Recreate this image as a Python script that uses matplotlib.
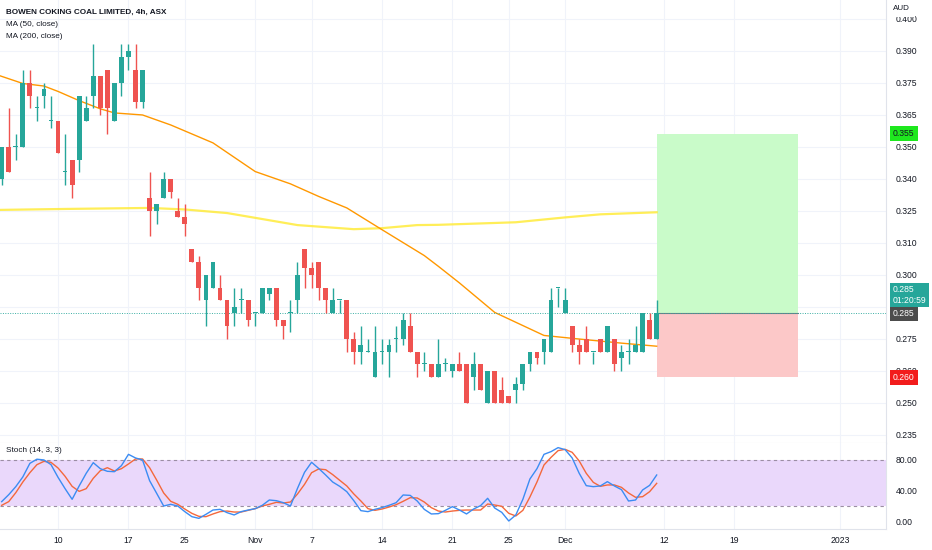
import matplotlib
matplotlib.use("Agg")
import matplotlib.pyplot as plt
import matplotlib.transforms as mtransforms
import numpy as np

plt.rcParams['font.family'] = ['Liberation Sans', 'DejaVu Sans']

# ---------------- data ----------------
opens = [.3375, .350, .350, .350, .375, .365, .370, .360, .360, .340,
         .345, .345, .360, .370, .3775, .380, .360, .375, .385, .380,
         .3675, .330, .325, .330, .3375, .325, .3225, .310, .305, .290,
         .295, .295, .290, .285, .290, .290, .285, .285, .2925, .295,
         .2825, .285, .290, .310, .3025, .305, .295, .285, .290, .290,
         .275, .270, .270, .260, .270, .270, .275, .275, .280, .270,
         .265, .265, .260, .265, .2625, .265, .265, .260, .265, .250,
         .2625, .255, .2525, .255, .2575, .265, .270, .270, .270, .295,
         .285, .280, .2725, .275, .270, .275, .270, .275, .2675, .270,
         .270, .270, .2825, .275]
highs = [.350, .365, .355, .380, .380, .370, .375, .370, .360, .355,
         .345, .370, .370, .390, .3775, .380, .375, .390, .390, .390,
         .380, .340, .3275, .340, .3375, .330, .3275, .310, .3075, .300,
         .305, .300, .290, .295, .295, .290, .285, .295, .295, .295,
         .2825, .290, .305, .310, .305, .305, .295, .295, .290, .290,
         .2775, .280, .275, .280, .275, .275, .280, .285, .285, .270,
         .270, .265, .275, .2675, .265, .270, .265, .270, .265, .2625,
         .2625, .260, .2525, .260, .265, .270, .270, .275, .295, .295,
         .295, .280, .275, .280, .270, .275, .280, .275, .2725, .275,
         .280, .285, .285, .290]
lows = [.335, .340, .345, .350, .365, .360, .365, .3575, .3475, .335,
        .330, .340, .360, .365, .3625, .355, .360, .370, .380, .365,
        .365, .315, .320, .330, .330, .3225, .315, .305, .290, .280,
        .295, .290, .275, .280, .285, .280, .280, .285, .290, .280,
        .275, .2775, .285, .295, .295, .290, .285, .285, .285, .270,
        .265, .265, .270, .260, .265, .260, .270, .2725, .270, .260,
        .2625, .260, .260, .2625, .260, .2625, .250, .255, .255, .250,
        .250, .250, .250, .250, .255, .2625, .265, .265, .270, .2875,
        .285, .270, .265, .270, .265, .270, .270, .2625, .2625, .265,
        .270, .270, .275, .275]
closes = [.350, .340, .350, .375, .370, .365, .3725, .360, .3475, .340,
          .335, .370, .365, .3775, .365, .365, .375, .385, .3875, .3675,
          .380, .325, .3275, .3375, .3325, .3225, .320, .305, .295, .300,
          .305, .290, .280, .2875, .290, .2825, .285, .295, .295, .2825,
          .280, .285, .300, .3025, .300, .295, .290, .290, .290, .275,
          .270, .2725, .270, .270, .270, .2725, .275, .2825, .270, .265,
          .265, .260, .265, .265, .265, .2625, .250, .265, .255, .2625,
          .250, .250, .250, .2575, .265, .270, .2675, .275, .290, .295,
          .290, .2725, .270, .270, .270, .270, .280, .265, .270, .270,
          .2725, .285, .275, .285]

ma50_idx = [-1, 3, 6, 8, 11, 14, 16, 20, 24, 30, 36, 41, 45, 49, 54, 60, 62, 65, 70, 77, 82, 88, 93]
ma50_val = [.3784, .3747, .3737, .3716, .3680, .3648, .3632, .3624, .3585, .3515, .3403, .3355,
            .3306, .3261, .3176, .3075, .3033, .2968, .2853, .2763, .2749, .2733, .2721]
ma200_idx = [-1, 9, 21, 26, 32, 35, 42, 50, 54, 59, 62, 73, 80, 85, 93]
ma200_val = [.3253, .3257, .3261, .3255, .3241, .3227, .3194, .3178, .3182, .3194, .3195,
             .3205, .3224, .3236, .3244]

stoch_k = [26, 35, 45.4, 58, 75.6, 81, 80, 74, 57.5, 42.8, 29, 46.3, 62.7, 76.5, 68.7, 65.3, 64.8,
           72.6, 87.3, 82.6, 80, 53.2, 36.8, 20.3, 22.5, 20.3, 13, 6.5, 4.3, 9.5, 15.1, 16, 11.7,
           8.7, 13, 15.1, 16.9, 21.2, 28.1, 27.2, 24.6, 20.3, 43.2, 64, 77, 69.1, 60.5, 51.4, 45.8,
           38.9, 27.2, 14.3, 13, 16, 18.2, 21.2, 24.6, 34.6, 34.1, 26.8, 16, 10, 10.4, 14.7, 19.5,
           15.1, 10, 16.4, 20.8, 30.3, 17.7, 12.1, 0.9, 8.7, 29, 55.3, 68.7, 87.3, 90.8, 96, 93.4,
           82.6, 62.7, 46.7, 45.4, 46.3, 51.9, 46.3, 41.5, 26.8, 28.1, 41.1, 47.1, 60.5]
stoch_d = [21.2, 26, 37.6, 51.4, 63.5, 73.9, 78.2, 76.9, 69.6, 58.8, 45.8, 39.3, 42.8, 56.2, 66.1,
           70, 65.7, 68.7, 74.8, 81.3, 81.3, 70, 54, 37.2, 26.4, 22.5, 16.4, 10.8, 6.9, 6.5, 10, 13,
           13.8, 12.5, 12.5, 14.7, 16.9, 20.3, 22.5, 25.1, 24.2, 25.5, 35.9, 48.4, 63.5, 68.3, 67.4,
           61, 53.6, 46.3, 35.9, 26.8, 16.9, 14.7, 16.4, 19, 22, 26.4, 31.1, 30.7, 25.5, 18.2, 13.8,
           12.5, 13.8, 14.7, 15.1, 15.1, 15.1, 22.9, 21.6, 19.9, 10.8, 7.4, 14.7, 32, 51.4, 73.5,
           83.4, 92.1, 93.8, 89.9, 78.7, 62.7, 51, 45.8, 47.6, 47.6, 44.5, 37.2, 31.6, 32.4, 38.9, 49.7]

date_idx = [8, 18, 26, 36, 44, 54, 64, 72, 80, 94, 104, 119]
date_labels = ['10', '17', '25', 'Nov', '7', '14', '21', '25', 'Dec', '12', '19', '2023']

# the 0.285 tick sits hidden behind the live-price labels, as in the reference
price_ticks = [0.400, 0.3875, 0.375, 0.3625, 0.350, 0.3375, 0.325, 0.3125, 0.300, 0.2875,
               0.275, 0.2625, 0.250, 0.2375]
price_tick_labels = ['0.400', '0.390', '0.375', '0.365', '0.350', '0.340', '0.325', '0.310',
                     '0.300', '', '0.275', '0.260', '0.250', '0.235']
stoch_ticks = [0, 40, 80]
stoch_tick_labels = ['0.00', '40.00', '80.00']

entry_price = 0.285
target_price = 0.355
stop_price = 0.260
pos_start, pos_end = 93, 113
last_price = 0.285
countdown = '01:20:59'

# ---------------- figure ----------------
W, H = 932, 550
fig = plt.figure(figsize=(W / 100, H / 100), dpi=100)
fig.patch.set_facecolor('white')

axis_x = 886
ax = fig.add_axes([0, 1 - 443 / H, axis_x / W, 443 / H])
axs = fig.add_axes([0, 1 - 529 / H, axis_x / W, 86 / H], sharex=ax)

UP, DN = '#26a69a', '#ef5350'
GRID = '#f0f3fa'
TXT = '#131722'
LINE = '#e0e3eb'

n = len(opens)
idx = np.arange(n)
o = np.array(opens); c = np.array(closes); hi = np.array(highs); lo = np.array(lows)
up = c >= o
cols = np.where(up, UP, DN)

ax.set_xlim(-0.24, 125.56)
ax.set_ylim(0.2343, 0.4073)

# grid
for v in price_ticks:
    ax.axhline(v, color=GRID, lw=0.8, zorder=0)
for d in date_idx:
    ax.axvline(d, color=GRID, lw=0.8, zorder=0)
    axs.axvline(d, color=GRID, lw=0.8, zorder=0)

# position tool
ax.fill_between([pos_start, pos_end], entry_price, target_price, color='#c9fbc9', lw=0, zorder=1)
ax.fill_between([pos_start, pos_end], stop_price, entry_price, color='#fcc8c8', lw=0, zorder=1)
ax.plot([pos_start, pos_end], [entry_price, entry_price], color='#787b86', lw=0.8, zorder=2)

# moving averages
ax.plot(ma200_idx, ma200_val, color='#ffeb3b', lw=1.6, alpha=0.85, zorder=2)
ax.plot(ma50_idx, ma50_val, color='#ff9800', lw=1.0, zorder=3)

# candles
ax.vlines(idx, lo, hi, colors=cols, lw=1.0, zorder=4)
body_bottom = np.minimum(o, c)
body_h = np.maximum(np.abs(c - o), 0.00035)
ax.bar(idx, body_h, bottom=body_bottom, width=0.68, color=cols, lw=0, zorder=5)

# last price dotted line
ax.axhline(last_price, color=UP, lw=0.7, ls=(0, (1, 1.5)), alpha=0.9, zorder=3)

# axes styling
for a in (ax, axs):
    for s in ('top', 'left'):
        a.spines[s].set_visible(False)
    a.spines['right'].set_color(LINE)
    a.spines['bottom'].set_color(LINE)
    a.yaxis.tick_right()
    a.tick_params(axis='y', length=0, pad=7, labelsize=6.2, labelcolor=TXT)
    a.set_facecolor('white')

ax.set_yticks(price_ticks)
ax.set_yticklabels(price_tick_labels)
ax.tick_params(axis='x', bottom=False, labelbottom=False)

# stochastic pane
axs.set_ylim(-9.5, 102)
axs.axhspan(20, 80, color='#ead8fb', lw=0, zorder=0)
axs.axhline(80, color='#9b8ea3', lw=0.8, ls=(0, (3, 3)), zorder=1)
axs.axhline(20, color='#9b8ea3', lw=0.8, ls=(0, (3, 3)), zorder=1)
axs.plot(idx, stoch_d, color='#f4683c', lw=1.0, zorder=3)
axs.plot(idx, stoch_k, color='#3b8cf3', lw=1.0, zorder=4)
axs.set_yticks(stoch_ticks)
axs.set_yticklabels(stoch_tick_labels)
axs.set_xticks(date_idx)
axs.set_xticklabels(date_labels)
axs.tick_params(axis='x', length=0, pad=5, labelsize=6.2, labelcolor=TXT)

# legends / titles
fig.text(6 / W, 1 - 12 / H, 'BOWEN COKING COAL LIMITED, 4h, ASX', fontsize=5.9,
         fontweight='bold', color=TXT, va='center', ha='left')
fig.text(6 / W, 1 - 24.5 / H, 'MA (50, close)', fontsize=5.9, color=TXT, va='center', ha='left')
fig.text(6 / W, 1 - 36.5 / H, 'MA (200, close)', fontsize=5.9, color=TXT, va='center', ha='left')
fig.text(6 / W, 1 - 451 / H, 'Stoch (14, 3, 3)', fontsize=5.9, color=TXT, va='center', ha='left')

# right-axis labels
fig.text(893 / W, 1 - 9 / H, 'AUD', fontsize=5.8, color=TXT, va='center', ha='left',
         bbox=dict(boxstyle='square,pad=0.6', fc='white', ec='none'))

trans = mtransforms.blended_transform_factory(ax.transAxes, ax.transData)
xl = 893 / axis_x


def price_label(y, text, fc, tc):
    ax.text(xl, y, text, transform=trans, fontsize=6.2, color=tc, va='center', ha='left',
            clip_on=False, zorder=10,
            bbox=dict(boxstyle='square,pad=0.35', fc=fc, ec='none'))


price_label(target_price, '%.3f' % target_price, '#1ee81e', TXT)
price_label(stop_price, '%.3f' % stop_price, '#f21c1c', 'white')
price_label(entry_price, '%.3f' % entry_price, '#4c4c4c', 'white')
ax.text(xl, last_price + 0.0071, '%.3f\n%s' % (last_price, countdown), transform=trans,
        fontsize=6.2, color='white', va='center', ha='left', clip_on=False, zorder=10,
        linespacing=1.2, bbox=dict(boxstyle='square,pad=0.3', fc=UP, ec='none'))

fig.savefig('out.png', dpi=100, facecolor='white')
